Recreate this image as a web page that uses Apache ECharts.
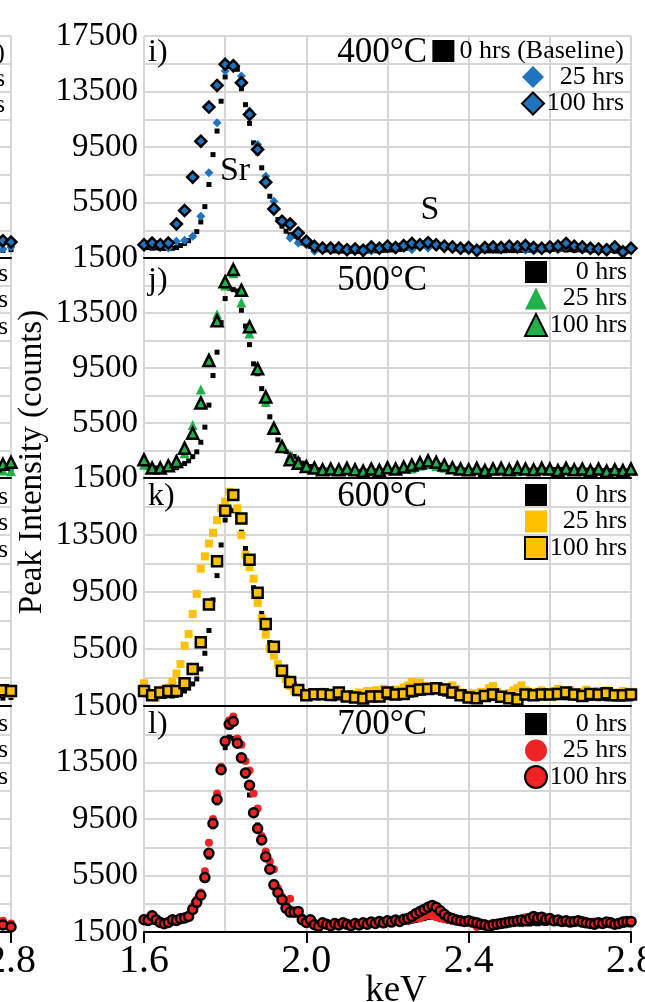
<!DOCTYPE html>
<html>
<head>
<meta charset="utf-8">
<script src="https://cdn.jsdelivr.net/npm/echarts@6/dist/echarts.min.js"></script>
<style>
  html, body { margin: 0; padding: 0; background: #fff; }
  #chart { width: 645px; height: 1002px; }
</style>
</head>
<body>
<div id="chart"></div>
<script>
// channels start at 1.60 keV; fine series every 0.01 keV, coarse every 0.02 keV
const startKeV = 1.6;
const fineStep = 0.01;
const coarseStep = 0.02;

// 0 hrs (baseline), 0.01 keV steps, same sample in every panel
const baseline = [
  2340, 2250, 2200, 2230, 2200, 2180, 2220, 2200, 2250, 2400,
  2550, 2750, 3050, 3400, 4100, 5200, 6800, 8950, 10650, 12800,
  14550, 15300, 15200, 15100, 13700, 12550, 11200, 9800, 9080, 8000,
  6870, 5950, 5040, 4270, 3790, 3430, 3180, 3060, 2820, 2580,
  2460, 2340, 2220, 2100, 2100, 2080, 2050, 2010, 2060, 1990,
  2030, 1980, 2020, 1970, 2040, 2000, 2060, 2020, 2090, 2050,
  2100, 2070, 2140, 2110, 2170, 2200, 2260, 2320, 2390, 2450,
  2520, 2560, 2500, 2420, 2330, 2260, 2200, 2160, 2120, 2090,
  2110, 2060, 2080, 2030, 2070, 2010, 2050, 2000, 2040, 2020,
  2070, 2030, 2080, 2040, 2090, 2060, 2110, 2080, 2130, 2100,
  2150, 2120, 2090, 2130, 2070, 2100, 2050, 2090, 2040, 2080,
  2030, 2060, 2010, 2050, 2000, 2040, 1990, 2030, 1980, 2020,
  2000
];

// i) 400°C, 0.02 keV steps
const i25 = [
  2340, 2340, 2340, 2220, 2700, 2780, 3060, 4510, 7640, 11250,
  14980, 15580, 14620, 12090, 9680, 7400, 5590, 4150, 2940, 2580,
  2460, 1980, 2100, 2050, 2150, 2100, 2050, 2150, 2000, 2100,
  2150, 2100, 2200, 2100, 2300, 2200, 2350, 2250, 2150, 2100,
  2000, 1950, 2100, 2150, 2100, 2200, 2150, 2050, 2000, 2150,
  2200, 2100, 2300, 2150, 2050, 2100, 2000, 2050, 2150, 2050,
  2200
];
const i100 = [
  2460, 2580, 2460, 2580, 3950, 4920, 7330, 9920, 12380, 13940,
  15460, 15340, 14130, 11850, 9320, 6960, 5040, 4150, 3950, 3300,
  2700, 2340, 2220, 2220, 2220, 2100, 2150, 2050, 2300, 2200,
  2350, 2250, 2400, 2550, 2450, 2600, 2450, 2350, 2300, 2200,
  2250, 2050, 2250, 2300, 2250, 2350, 2300, 2400, 2250, 2200,
  2300, 2350, 2550, 2350, 2300, 2200, 2150, 2100, 2300, 1950,
  2200
];

// j) 500°C, 0.02 keV steps
const j25 = [
  2460, 2340, 2220, 2340, 2580, 3300, 5350, 7930, 10300, 13410,
  15500, 16400, 14260, 12010, 9400, 7040, 5100, 3700, 3180, 2460,
  2220, 2150, 2050, 2100, 2000, 2150, 2050, 2100, 2000, 2300,
  2150, 2350, 2250, 2200, 2400, 2500, 2350, 2250, 2150, 2100,
  2050, 2100, 2000, 2150, 2050, 2100, 2000, 2150, 2050, 2350,
  2200, 2100, 2050, 2150, 2000, 2100, 2050, 2150, 2050, 2100,
  2050
];
const j100 = [
  2820, 2220, 2220, 2390, 2700, 3670, 4750, 6960, 10040, 12930,
  15770, 16660, 15150, 12500, 9440, 7400, 5110, 3790, 2820, 2580,
  2340, 2220, 2100, 2150, 2100, 2200, 2100, 2000, 2150, 2050,
  2250, 2150, 2300, 2450, 2600, 2750, 2650, 2450, 2250, 2150,
  2100, 2200, 2050, 2150, 2200, 2100, 2250, 2150, 2100, 2200,
  2150, 2050, 2200, 2100, 2150, 2050, 2150, 2000, 2100, 2050,
  2150
];

// k) 600°C, 25 hrs every 0.01 keV, 100 hrs every 0.02 keV
const k25 = [
  3100, 2440, 2200, 2090, 2440, 2680, 2790, 3190, 3780, 4440,
  5730, 6550, 7960, 9370, 11140, 12000, 12900, 13650, 14540, 15370,
  15840, 16540, 16190, 15370, 13490, 12120, 11250, 10430, 8740, 7660,
  6510, 5540, 5030, 4440, 3850, 3380, 2910, 2560, 2560, 2440,
  2320, 2300, 2450, 2250, 2500, 2350, 2200, 2400, 2550, 2300,
  2150, 2350, 2250, 2450, 2300, 2550, 2400, 2600, 2450, 2700,
  2550, 2400, 2650, 2500, 2800, 2950, 3200, 3050, 3150, 2900,
  2750, 2850, 2600, 2700, 2550, 2800, 2950, 2700, 2450, 2350,
  2250, 2400, 2300, 2500, 2350, 2750, 2900, 2500, 2300, 2150,
  2400, 2600, 2750, 2950, 2600, 2400, 2500, 2350, 2600, 2450,
  2300, 2550, 2700, 2500, 2350, 2600, 2450, 2300, 2500, 2650,
  2400, 2300, 2550, 2400, 2600, 2350, 2450, 2300, 2550, 2400,
  2500
];
const k100 = [
  2560, 2250, 2440, 2560, 2560, 3100, 4090, 5970, 8620, 11650,
  15200, 16300, 14660, 11770, 9440, 7260, 5660, 3970, 3190, 2630,
  2250, 2320, 2320, 2280, 2440, 2160, 2090, 2020, 2160, 2160,
  2440, 2300, 2350, 2550, 2650, 2700, 2750, 2650, 2450, 2250,
  2100, 2050, 2200, 2300, 2150, 2050, 1950, 2300, 2250, 2300,
  2300, 2350, 2450, 2300, 2200, 2350, 2300, 2400, 2250, 2250,
  2300
];

// l) 700°C, 0.01 keV steps
const l25 = [
  2500, 2300, 2600, 2400, 2250, 2150, 2200, 2300, 2350, 2400,
  2550, 2700, 3300, 3800, 4300, 5800, 7820, 9500, 11300, 13200,
  15000, 16500, 16750, 15200, 14750, 13600, 12940, 11300, 10240, 8300,
  7200, 6500, 5940, 4600, 4000, 3500, 3850, 2900, 2750, 2400,
  2250, 2300, 2100, 2000, 2200, 2100, 2000, 2150, 2050, 2200,
  2100, 2000, 2150, 2050, 2200, 2100, 2250, 2150, 2300, 2200,
  2350, 2250, 2300, 2200, 2350, 2300, 2400, 2500, 2450, 2600,
  2700, 2650, 2550, 2450, 2400, 2350, 2300, 2250, 2200, 2300,
  2150, 2100, 1850, 2050, 2100, 2000, 2150, 2100, 2200, 2150,
  2300, 2250, 2400, 2350, 2550, 2500, 2600, 2550, 2650, 2500,
  2550, 2400, 2350, 2300, 2250, 2300, 2200, 2250, 2350, 2200,
  2150, 2250, 2100, 2200, 2150, 2250, 2100, 2200, 2300, 2150,
  2250
];
const l100 = [
  2370, 2320, 2650, 2370, 2180, 2090, 2180, 2370, 2320, 2440,
  2490, 2600, 3100, 3600, 4100, 5350, 7070, 9180, 10880, 12990,
  15000, 16200, 16400, 14870, 13840, 12760, 11890, 9940, 8830, 8010,
  6830, 5940, 4840, 4300, 3780, 3190, 2910, 2900, 2960, 2370,
  2180, 2370, 2020, 1900, 2150, 2050, 1950, 2100, 2000, 2150,
  2050, 1950, 2100, 2000, 2150, 2050, 2200, 2100, 2250, 2150,
  2300, 2200, 2350, 2250, 2400, 2450, 2600, 2800, 2950, 3100,
  3250, 3380, 3250, 3000, 2750, 2550, 2450, 2350, 2300, 2250,
  2300, 2200, 2150, 2050, 2000, 1900, 2000, 2050, 2100, 2150,
  2200, 2250, 2300, 2350, 2300, 2450, 2600, 2500, 2550, 2400,
  2450, 2300, 2350, 2250, 2300, 2200, 2250, 2300, 2200, 2150,
  2100, 2050, 2150, 2100, 2200, 2150, 2050, 2100, 2200, 2250,
  2250
];

// neighbouring column (cut off at the left edge): only its last channels show
const edgeKeV = [2.76, 2.78, 2.80];
const edgeI0 = [2080, 2050, 2100];
const edgeI25 = [2200, 2150, 2300];
const edgeI100 = [2450, 2750, 2650];
const edgeJ0 = [2050, 2000, 2050];
const edgeJ25 = [2100, 2050, 2000];
const edgeJ100 = [2400, 2500, 2650];
const edgeK0 = [2100, 2050, 2100];
const edgeK25 = [2300, 2450, 2350];
const edgeK100 = [2500, 2600, 2550];
const edgeL0 = [1900, 1850, 1900];
const edgeL25 = [2400, 2300, 2100];
const edgeL100 = [2200, 2000, 1850];

const yTicks = { min: 1500, max: 17500, interval: 4000 };
const xTicks = { min: 1.6, max: 2.8, interval: 0.4 };

const serif = "'Liberation Serif', 'DejaVu Serif', serif";
const gridColor = '#d6d6d6';

function toPairs(vals, step) {
  return vals.map((v, i) => [+(startKeV + i * step).toFixed(2), v]);
}
function edgePairs(vals) {
  return vals.map((v, i) => [edgeKeV[i], v]);
}

const style = {
  i: { symbol: 'diamond', color: '#1f74bd', size25: 9, size100: 11 },
  j: { symbol: 'triangle', color: '#22b04b', size25: 10, size100: 11 },
  k: { symbol: 'rect', color: '#ffc000', size25: 8, size100: 10 },
  l: { symbol: 'circle', color: '#ee2424', size25: 8, size100: 9 }
};

const panels = [
  { id: 'i', label: 'i)', temp: '400°C', top: 36, height: 222, textY: 53, legendTop: 38,
    d0: toPairs(baseline, fineStep), d25: toPairs(i25, coarseStep), d100: toPairs(i100, coarseStep) },
  { id: 'j', label: 'j)', temp: '500°C', top: 258, height: 220, textY: 281, legendTop: 259,
    d0: toPairs(baseline, fineStep), d25: toPairs(j25, coarseStep), d100: toPairs(j100, coarseStep) },
  { id: 'k', label: 'k)', temp: '600°C', top: 478, height: 228, textY: 497, legendTop: 482,
    d0: toPairs(baseline, fineStep), d25: toPairs(k25, fineStep), d100: toPairs(k100, coarseStep) },
  { id: 'l', label: 'l)', temp: '700°C', top: 706, height: 226, textY: 725, legendTop: 711,
    d0: toPairs(baseline, fineStep), d25: toPairs(l25, fineStep), d100: toPairs(l100, fineStep) }
];
const edgePanels = [
  { id: 'i', top: 36, height: 222, legendTop: 40, d0: edgePairs(edgeI0), d25: edgePairs(edgeI25), d100: edgePairs(edgeI100) },
  { id: 'j', top: 258, height: 220, legendTop: 261, d0: edgePairs(edgeJ0), d25: edgePairs(edgeJ25), d100: edgePairs(edgeJ100) },
  { id: 'k', top: 478, height: 228, legendTop: 484, d0: edgePairs(edgeK0), d25: edgePairs(edgeK25), d100: edgePairs(edgeK100) },
  { id: 'l', top: 706, height: 226, legendTop: 711, d0: edgePairs(edgeL0), d25: edgePairs(edgeL25), d100: edgePairs(edgeL100) }
];

const grid = [], xAxis = [], yAxis = [], series = [], legend = [], graphic = [];

function addPanel(p, last, opts) {
  const gi = grid.length;
  const s = style[p.id];
  grid.push(Object.assign({ top: p.top, height: p.height, outerBoundsMode: 'none', containLabel: false }, opts.box));

  // gridline axis
  const xi = xAxis.length;
  xAxis.push({
    type: 'value', gridIndex: gi, min: xTicks.min, max: xTicks.max, interval: xTicks.interval,
    axisLine: { show: false }, axisTick: { show: false }, axisLabel: { show: false },
    splitLine: { show: true, lineStyle: { color: gridColor, width: 2 } },
    minorTick: { show: false, splitNumber: 2 },
    minorSplitLine: { show: true, lineStyle: { color: gridColor, width: 2 } }
  });
  // black bottom axis (ticks and labels only on the last panel)
  xAxis.push({
    type: 'value', gridIndex: gi, min: xTicks.min, max: xTicks.max, interval: xTicks.interval,
    position: 'bottom', z: 3,
    axisLine: { show: true, onZero: false, lineStyle: { color: '#000', width: 2 } },
    axisTick: { show: last, length: 11, lineStyle: { color: '#000', width: 2 } },
    axisLabel: { show: last, color: '#000', fontFamily: serif, fontSize: 40, margin: 9,
      formatter: v => v.toFixed(1) },
    splitLine: { show: false }
  });

  const first = p.id === 'i';
  yAxis.push({
    type: 'value', gridIndex: gi, min: yTicks.min, max: yTicks.max, interval: yTicks.interval,
    axisLine: { show: false }, axisTick: { show: false },
    axisLabel: { show: opts.main, color: '#000', fontFamily: serif, fontSize: 33, margin: 6,
      formatter: v => (!first && v >= yTicks.max) ? '' : String(v) },
    splitLine: { show: true, lineStyle: { color: gridColor, width: 2 } },
    minorTick: { show: false, splitNumber: 2 },
    minorSplitLine: { show: true, lineStyle: { color: gridColor, width: 2 } }
  });

  const pre = opts.prefix + p.id;
  series.push({
    name: pre + '0', type: 'scatter', xAxisIndex: xi, yAxisIndex: gi,
    symbol: 'rect', symbolSize: 5, itemStyle: { color: '#000', opacity: 1 },
    data: p.d0
  });
  series.push({
    name: pre + '25', type: 'scatter', xAxisIndex: xi, yAxisIndex: gi,
    symbol: s.symbol, symbolSize: s.size25, itemStyle: { color: s.color, opacity: 1 },
    data: p.d25
  });
  series.push({
    name: pre + '100', type: 'scatter', xAxisIndex: xi, yAxisIndex: gi,
    symbol: s.symbol, symbolSize: s.size100,
    itemStyle: { color: s.color, borderColor: '#000', borderWidth: 2.5, opacity: 1 },
    data: p.d100
  });

  const names = { 0: first ? '0 hrs (Baseline)' : '0 hrs', 25: '25 hrs', 100: '100 hrs' };
  const label = n => names[n.slice(pre.length)];
  const legendBase = {
    orient: 'vertical', selectedMode: false, padding: 0, itemWidth: 22, itemHeight: 22, itemGap: 0.5,
    textStyle: { color: '#000', fontFamily: serif, fontSize: 26, lineHeight: 24,
      rich: { t: { width: 75, align: 'right', color: '#000', fontFamily: serif, fontSize: 26, lineHeight: 24 } } }
  };
  if (first) {
    legend.push(Object.assign({}, legendBase, {
      right: opts.legendRight + 3, top: p.legendTop, data: [pre + '0'], formatter: label
    }));
    legend.push(Object.assign({}, legendBase, {
      right: opts.legendRight + 3, top: p.legendTop + 26, data: [pre + '25', pre + '100'],
      formatter: n => '{t|' + label(n) + '}'
    }));
  } else {
    legend.push(Object.assign({}, legendBase, {
      right: opts.legendRight, top: p.legendTop, data: [pre + '0', pre + '25', pre + '100'],
      formatter: n => '{t|' + label(n) + '}'
    }));
  }
}

edgePanels.forEach((p, idx) => addPanel(p, idx === edgePanels.length - 1,
  { main: false, prefix: 'edge', box: { left: -475, width: 486 }, legendRight: 637 }));
panels.forEach((p, idx) => addPanel(p, idx === panels.length - 1,
  { main: true, prefix: '', box: { left: 144, right: 14 }, legendRight: 18 }));

const text = (x, y, t, size, align, extra) => Object.assign({
  type: 'text', x, y, z: 100,
  style: { text: t, fontFamily: serif, fontSize: size, fill: '#000', align, verticalAlign: 'middle' }
}, extra || {});

panels.forEach(p => {
  graphic.push(text(148, p.textY, p.label, 32, 'left'));
  graphic.push(text(427, p.textY, p.temp, 35, 'right'));
});
graphic.push(text(235, 171, 'Sr', 34, 'center'));
graphic.push(text(430, 210, 'S', 34, 'center'));
graphic.push(text(396, 991, 'keV', 37, 'center'));
graphic.push(text(32, 462, 'Peak Intensity (counts)', 33, 'center', { rotation: Math.PI / 2 }));

const chart = echarts.init(document.getElementById('chart'), null, { renderer: 'canvas' });
chart.setOption({
  animation: false,
  backgroundColor: '#fff',
  grid, xAxis, yAxis, series, legend, graphic
});
</script>
</body>
</html>
